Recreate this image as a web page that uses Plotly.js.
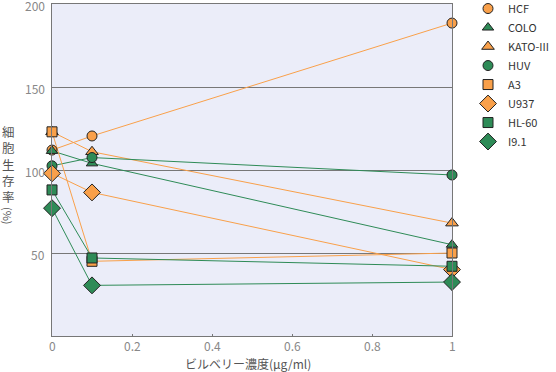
<!DOCTYPE html>
<html><head><meta charset="utf-8">
<script src="https://cdn.plot.ly/plotly-3.0.1.min.js"></script>
<style>html,body{margin:0;padding:0;background:#fff;}#chart{width:556px;height:372px;}</style>
</head><body><div id="chart"></div>
<script>
var concentrations = [0, 0.1, 1];
var seriesNames = ['HCF', 'COLO', 'KATO-III', 'HUV', 'A3', 'U937', 'HL-60', 'I9.1'];
var HCF = [112, 120.5, 188.5];
var COLO = [111.5, 104, 55];
var KATO = [123, 111, 68];
var HUV = [102.5, 107.5, 97];
var A3 = [123, 45, 50];
var U937 = [98, 86.5, 40];
var HL60 = [88, 47, 42];
var I91 = [77, 30.5, 32.5];
var xTicks = [0, 0.2, 0.4, 0.6, 0.8, 1];
var yTicks = [50, 100, 150, 200];
var xTitle = 'ビルベリー濃度(μg/ml)';

var ORANGE = '#f9a04a', GREEN = '#2e8b57';
var seriesData = [HCF, COLO, KATO, HUV, A3, U937, HL60, I91];
var colors = [ORANGE, GREEN, ORANGE, GREEN, ORANGE, ORANGE, GREEN, GREEN];
var symbols = ['circle', 'triangle-up', 'triangle-up', 'circle', 'square', 'diamond', 'square', 'diamond'];
var sizes = [10, 10, 11, 10, 10, 13, 10, 13];

var traces = [];
seriesNames.forEach(function (n, i) {
  traces.push({x: concentrations, y: seriesData[i], mode: 'lines', legendgroup: n, showlegend: false,
    line: {color: colors[i], width: 1}, hoverinfo: 'skip'});
});
seriesNames.forEach(function (n, i) {
  traces.push({x: concentrations, y: seriesData[i], mode: 'markers', name: n, legendgroup: n,
    cliponaxis: false,
    marker: {color: colors[i], symbol: symbols[i], size: sizes[i], line: {color: '#222', width: 1}}});
});

var fontFam = '"Noto Sans CJK JP", "Noto Sans", sans-serif';
var tickFont = {size: 12, color: '#888', family: fontFam};
var annotations = [];
xTicks.forEach(function (v) {
  annotations.push({text: String(v), xref: 'x', yref: 'paper', x: v, y: -0.03,
    xanchor: 'center', yanchor: 'middle', showarrow: false, font: tickFont});
});
yTicks.forEach(function (v) {
  annotations.push({text: String(v), xref: 'paper', yref: 'y', x: -0.0125, y: v, yshift: -1,
    xanchor: 'right', yanchor: 'middle', showarrow: false, font: tickFont});
});
annotations.push({text: xTitle, xref: 'paper', yref: 'paper', x: 0.49, y: -0.084,
  xanchor: 'center', yanchor: 'middle', showarrow: false, font: {size: 12, color: '#555', family: fontFam}});
annotations.push({text: '細<br>胞<br>生<br>存<br>率', xref: 'paper', yref: 'paper', x: -0.11, y: (336 - 164) / 332,
  xanchor: 'center', yanchor: 'middle', showarrow: false, font: {size: 12.5, color: '#555', family: fontFam}});
annotations.push({text: '(%)', textangle: 90, xref: 'paper', yref: 'paper', x: -0.11, y: (336 - 216) / 332,
  xanchor: 'center', yanchor: 'middle', showarrow: false, font: {size: 11, color: '#555', family: fontFam}});

var layout = {
  width: 556, height: 372,
  margin: {l: 52, r: 104, t: 4, b: 36, autoexpand: false},
  paper_bgcolor: '#ffffff', plot_bgcolor: '#ebedf9',
  font: {family: fontFam, size: 12, color: '#888'},
  showlegend: true,
  legend: {x: 1.04, y: 1.03, xanchor: 'left', yanchor: 'top', font: {size: 11, color: '#333', family: fontFam},
    tracegroupgap: 0, bgcolor: 'rgba(0,0,0,0)'},
  xaxis: {range: [0, 1], tickmode: 'array', tickvals: xTicks, ticks: 'inside', ticklen: 2,
    tickcolor: '#777', showgrid: false, zeroline: false, showline: true, linecolor: '#777', linewidth: 1,
    mirror: true, showticklabels: false},
  yaxis: {range: [0, 200], tickmode: 'array', tickvals: yTicks, ticks: '', showgrid: true,
    gridcolor: '#777', gridwidth: 1, zeroline: false, showline: true, linecolor: '#777', linewidth: 1,
    mirror: true, showticklabels: false},
  annotations: annotations
};
Plotly.newPlot('chart', traces, layout, {displayModeBar: false, staticPlot: true});
</script></body></html>
